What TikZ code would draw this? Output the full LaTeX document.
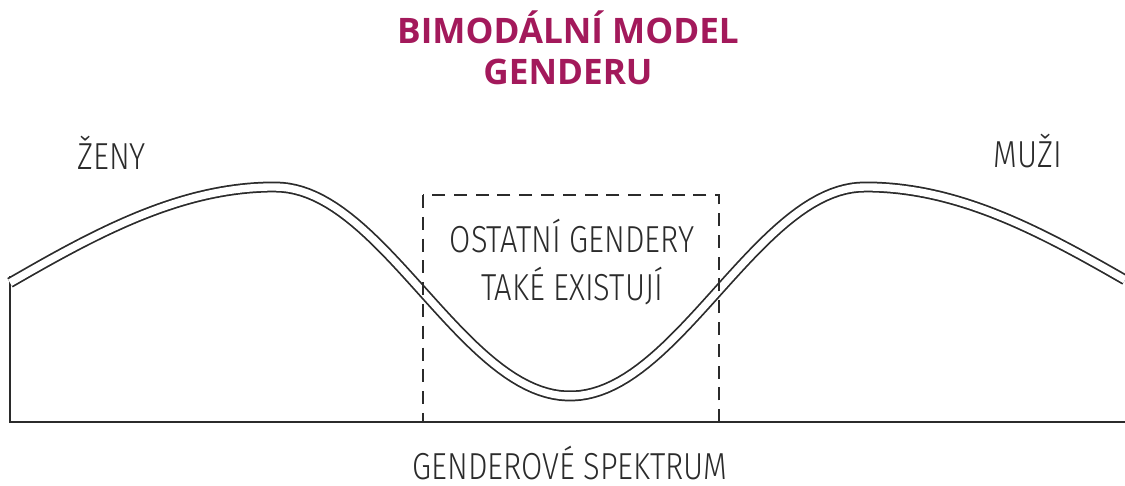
\documentclass[tikz,border=0pt]{standalone}
\usepackage{fontspec}
\setmainfont{Open Sans}
\newfontfamily\condfont[UprightFont=* Light,FakeStretch=0.82]{Fira Sans}
\usetikzlibrary{positioning}
\definecolor{Berry}{HTML}{A3195B}
\definecolor{Ink}{HTML}{2B2B2B}

\begin{document}
\begin{tikzpicture}[
  x=0.02cm,y=-0.02cm,
  title/.style={font=\fontsize{20}{23.8}\selectfont\bfseries,text=Berry,
    align=center,inner sep=0pt},
  lbl/.style={font=\condfont\fontsize{21.4}{27.2}\selectfont,text=Ink,
    align=center,inner sep=0pt},
  axis/.style={draw=Ink,line width=1.1pt},
  curve/.style={draw=Ink,line width=1pt,double=white,double distance=4.2pt},
  box/.style={draw=Ink,line width=.85pt,dash pattern=on 7.4pt off 5pt}
]
\useasboundingbox (0,0) rectangle (1125,486);
% multi-line nodes: base anchor is the last line
\node[title,anchor=base] (head) at (568,85) {BIMODÁLNÍ MODEL\\GENDERU};
% spectrum axis and the left edge of the area
\coordinate (origin) at (10,422);
\coordinate (axisend) at (1125,422);
\coordinate (start) at (10,276);
\draw[axis] (start)--(origin)--(axisend);
% two humps: flat outer flanks, cosine valley between the peaks
\draw[curve] plot[domain=10:275,samples=40]
    (\x,{187+274*(1-exp(-((\x-275)/100)^2/16.33))})
  -- plot[domain=275:865,samples=90]
    (\x,{291.5-104.5*cos((\x-275)/295*180)})
  -- plot[domain=865:1125,samples=40]
    (\x,{187+274*(1-exp(-((\x-865)/100)^2/16.33))});
\draw[box] (423,195) rectangle (719,422);
\node[lbl,anchor=base west] (women) at (77,170) {ŽENY};
\node[lbl,anchor=base] (men) at (1028,168) {MUŽI};
\node[lbl,anchor=base] (others) at (572,300) {OSTATNÍ GENDERY\\TAKÉ EXISTUJÍ};
\node[lbl,anchor=base,align=none,text depth=0pt] (spectrum) at (570,479) {GENDEROVÉ SPEKTRUM};
\end{tikzpicture}
\end{document}
